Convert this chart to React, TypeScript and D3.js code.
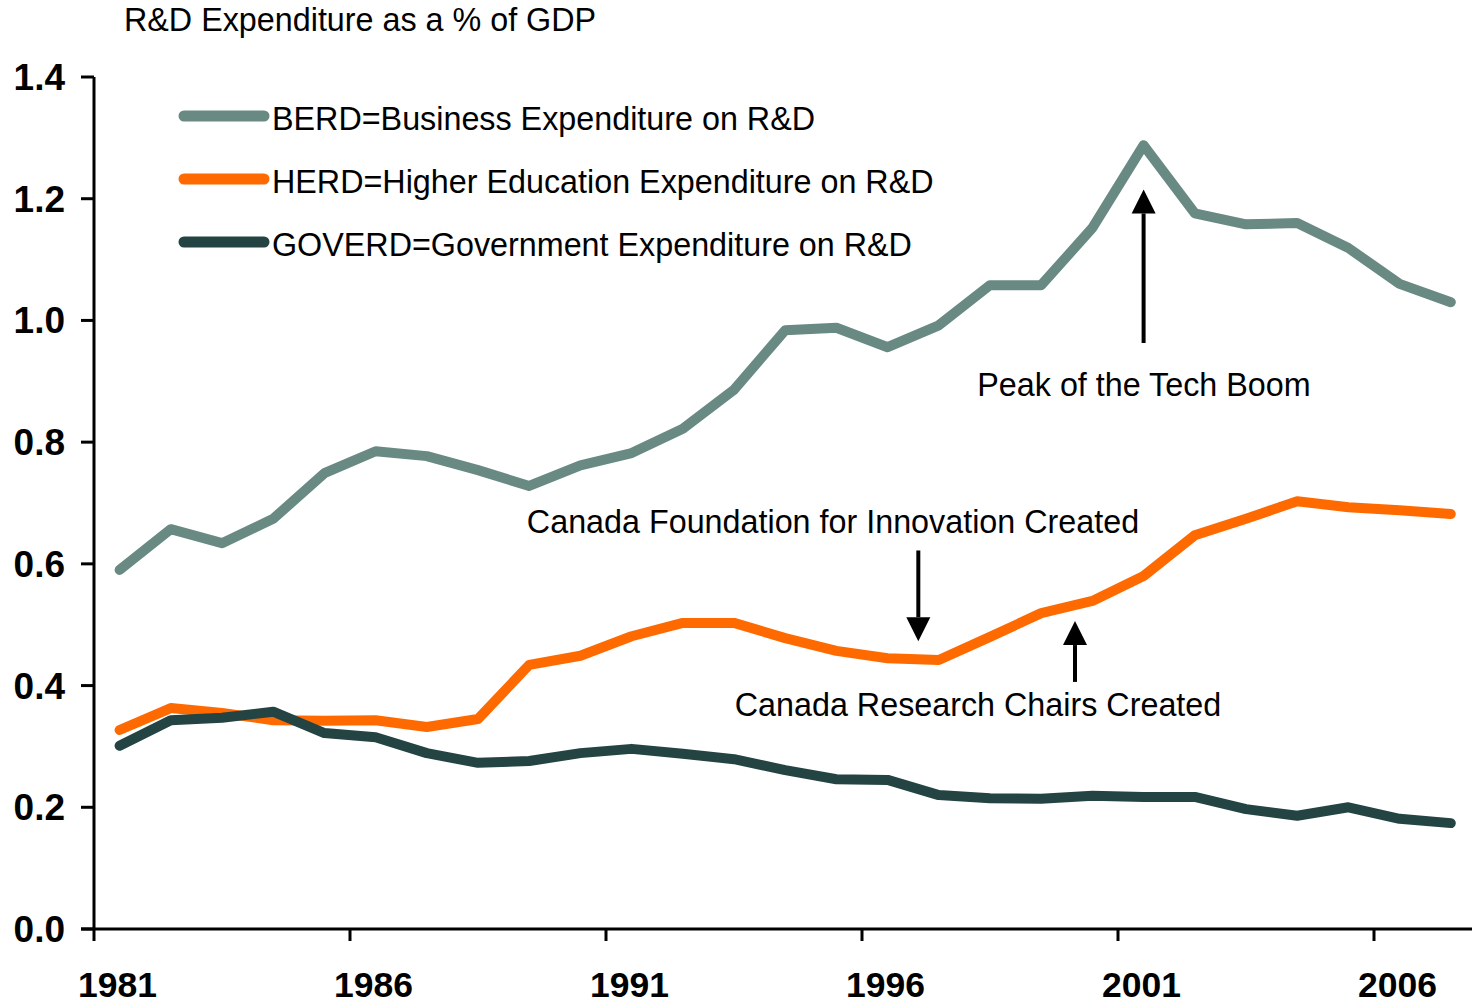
import React from "react";
import * as d3 from "d3";

const years: number[] = [
  1981, 1982, 1983, 1984, 1985, 1986, 1987, 1988, 1989, 1990, 1991, 1992, 1993, 1994,
  1995, 1996, 1997, 1998, 1999, 2000, 2001, 2002, 2003, 2004, 2005, 2006, 2007,
];

const berd: number[] = [
  0.59, 0.657, 0.634, 0.674, 0.749, 0.785, 0.777, 0.754, 0.728, 0.762, 0.782, 0.822, 0.886,
  0.984, 0.988, 0.956, 0.992, 1.058, 1.058, 1.152, 1.288, 1.176, 1.158, 1.16, 1.119, 1.06, 1.03,
];

const herd: number[] = [
  0.327, 0.363, 0.355, 0.343, 0.342, 0.343, 0.332, 0.345, 0.434, 0.449, 0.481, 0.503, 0.503,
  0.478, 0.457, 0.445, 0.442, 0.48, 0.519, 0.539, 0.58, 0.647, 0.674, 0.703, 0.693, 0.688, 0.682,
];

const goverd: number[] = [
  0.301, 0.343, 0.347, 0.357, 0.322, 0.315, 0.289, 0.273, 0.276, 0.289, 0.296, 0.288, 0.279,
  0.261, 0.246, 0.245, 0.22, 0.215, 0.214, 0.219, 0.217, 0.217, 0.197, 0.186, 0.2, 0.181, 0.174,
];

const yTicks: number[] = [0, 0.2, 0.4, 0.6, 0.8, 1.0, 1.2, 1.4];
const xTickYears: number[] = [1981, 1986, 1991, 1996, 2001, 2006];

const seriesNames: string[] = [
  "BERD=Business Expenditure on R&D",
  "HERD=Higher Education Expenditure on R&D",
  "GOVERD=Government Expenditure on R&D",
];
const seriesColors: string[] = ["#688A82", "#FF6A00", "#234442"];

const title = "R&D Expenditure as a % of GDP";

const annotations = [
  { text: "Peak of the Tech Boom", year: 2001, from: 0.963, to: 1.215, dir: "up", tx: 1144, ty: 396 },
  { text: "Canada Foundation for Innovation Created", year: 1996.6, from: 0.622, to: 0.473, dir: "down", tx: 833, ty: 533 },
  { text: "Canada Research Chairs Created", year: 1999.66, from: 0.406, to: 0.506, dir: "up", tx: 978, ty: 716 },
];

const W = 1472;
const H = 1004;
const FONT = "Arial, 'Liberation Sans', Helvetica, sans-serif";
const TEXT_SIZE = 32.3;

export default function App() {
  const x = d3.scaleLinear().domain([1980.5, 2007.5]).range([94, 94 + 27 * 51.2]);
  const y = d3.scaleLinear().domain([0, 1.4]).range([929, 77]);

  const line = d3
    .line<number>()
    .x((_, i) => x(years[i]))
    .y((d) => y(d));

  const allSeries = [berd, herd, goverd];

  return (
    <div style={{ position: "absolute", left: 0, top: 0 }}>
      <svg width={W} height={H} style={{ display: "block", background: "#fff" }} fontFamily={FONT}>
        {/* Title */}
        <text x={124} y={31} fontSize={TEXT_SIZE} fill="#000">
          {title}
        </text>

        {/* Y axis */}
        <line x1={94} x2={94} y1={y(1.4)} y2={y(0)} stroke="#000" strokeWidth={3} />
        {yTicks.map((t) => (
          <g key={t}>
            <line x1={81} x2={94} y1={y(t)} y2={y(t)} stroke="#000" strokeWidth={3} />
            <text
              x={65}
              y={y(t)}
              dy={13}
              textAnchor="end"
              fontSize={37}
              fontWeight="bold"
              fill="#000"
            >
              {t.toFixed(1)}
            </text>
          </g>
        ))}

        {/* X axis */}
        <line x1={81} x2={W} y1={y(0)} y2={y(0)} stroke="#000" strokeWidth={3} />
        {xTickYears.map((yr) => (
          <g key={yr}>
            <line x1={x(yr - 0.5)} x2={x(yr - 0.5)} y1={y(0)} y2={y(0) + 12} stroke="#000" strokeWidth={3} />
            <text x={x(yr) - 2} y={997} textAnchor="middle" fontSize={35.5} fontWeight="bold" fill="#000">
              {yr}
            </text>
          </g>
        ))}

        {/* Series lines */}
        {allSeries.map((s, i) => (
          <path
            key={i}
            d={line(s) || ""}
            fill="none"
            stroke={seriesColors[i]}
            strokeWidth={10}
            strokeLinejoin="round"
            strokeLinecap="round"
          />
        ))}

        {/* Legend */}
        {seriesNames.map((name, i) => (
          <g key={name} transform={`translate(0, ${116 + i * 63})`}>
            <line x1={184} x2={264} y1={0} y2={0} stroke={seriesColors[i]} strokeWidth={11} strokeLinecap="round" />
            <text x={272} y={14} fontSize={TEXT_SIZE} fill="#000">
              {name}
            </text>
          </g>
        ))}

        {/* Annotations */}
        {annotations.map((a) => {
          const ax = x(a.year);
          const y0 = y(a.from);
          const yTip = y(a.to);
          const sign = a.dir === "up" ? 1 : -1;
          const headLen = 24;
          const yBase = yTip + sign * headLen;
          return (
            <g key={a.text}>
              <line x1={ax} x2={ax} y1={y0} y2={yBase} stroke="#000" strokeWidth={4} />
              <path
                d={`M${ax},${yTip} L${ax - 12},${yBase} L${ax + 12},${yBase} Z`}
                fill="#000"
              />
              <text x={a.tx} y={a.ty} textAnchor="middle" fontSize={TEXT_SIZE} fill="#000">
                {a.text}
              </text>
            </g>
          );
        })}
      </svg>
    </div>
  );
}
